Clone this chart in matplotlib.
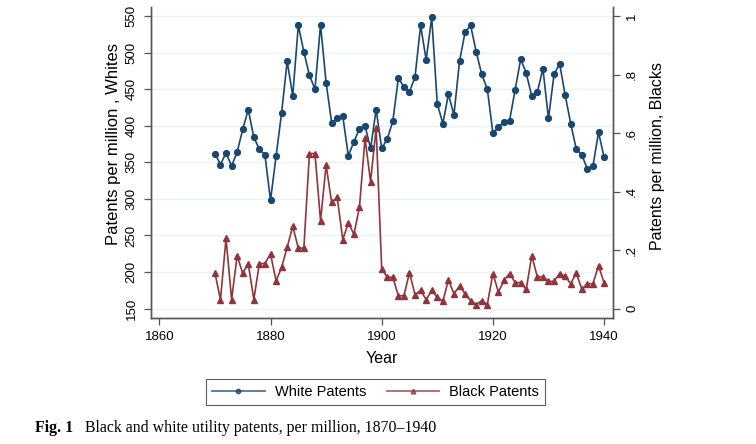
import matplotlib
matplotlib.use("Agg")
import matplotlib.pyplot as plt
from matplotlib.lines import Line2D

years = list(range(1870, 1941))
white = [362, 347, 363, 345, 364, 395, 422, 384, 368, 360,
         298, 358, 418, 488, 441, 537, 501, 469, 450, 538,
         459, 404, 410, 413, 359, 378, 396, 400, 369, 422,
         369, 382, 406, 465, 453, 446, 467, 537, 490, 548,
         430, 403, 443, 415, 488, 528, 537, 501, 470, 450,
         390, 398, 405, 407, 449, 491, 472, 440, 446, 478,
         410, 470, 485, 442, 403, 368, 360, 341, 345, 391,
         357]
black = [0.122, 0.031, 0.240, 0.031, 0.180, 0.121, 0.154, 0.031, 0.154, 0.154,
         0.187, 0.095, 0.141, 0.210, 0.281, 0.207, 0.207, 0.530, 0.530, 0.300,
         0.490, 0.363, 0.380, 0.236, 0.293, 0.254, 0.346, 0.582, 0.434, 0.618,
         0.136, 0.107, 0.107, 0.044, 0.044, 0.123, 0.047, 0.062, 0.031, 0.062,
         0.039, 0.025, 0.098, 0.051, 0.077, 0.051, 0.027, 0.014, 0.027, 0.014,
         0.120, 0.056, 0.097, 0.120, 0.089, 0.089, 0.066, 0.181, 0.108, 0.108,
         0.093, 0.093, 0.120, 0.110, 0.085, 0.122, 0.066, 0.085, 0.085, 0.147,
         0.088]

x_ticks = [1860, 1880, 1900, 1920, 1940]
left_ticks = [150, 200, 250, 300, 350, 400, 450, 500, 550]
right_ticks = [0, 0.2, 0.4, 0.6, 0.8, 1.0]
right_labels = ["0", ".2", ".4", ".6", ".8", "1"]

navy = "#1a476f"
maroon = "#90353b"
spine_c = "#555555"

plt.rcParams['font.family'] = ['Liberation Sans', 'DejaVu Sans']

fig = plt.figure(figsize=(7.56, 4.44), dpi=100)
ax = fig.add_axes([0.1997, 0.2845, 0.6111, 0.7005])
ax2 = ax.twinx()

ax.plot(years, white, color=navy, lw=1.2, marker='o', ms=4.2, zorder=3)
ax2.plot(years, black, color=maroon, lw=1.2, marker='^', ms=4.5, zorder=3)

ax.set_xlim(1858.5, 1941.6)
ax.set_ylim(137.7, 562.7)
ax2.set_ylim(-0.031, 1.032)

ax.set_xticks(x_ticks)
ax.set_yticks(left_ticks)
ax2.set_yticks(right_ticks)
ax2.set_yticklabels(right_labels)
ax.grid(axis='y', color='#eaf2f3', lw=1.0)
ax.set_axisbelow(True)

for a in (ax, ax2):
    a.spines['top'].set_visible(False)
    for s in ('left', 'right', 'bottom'):
        a.spines[s].set_color(spine_c)
        a.spines[s].set_linewidth(1.0)
    a.tick_params(direction='out', length=5, width=0.9, color=spine_c,
                  labelsize=9.5, labelcolor='black', pad=4.5)

for lab in ax.get_yticklabels():
    lab.set_rotation(90)
    lab.set_va('center')
for lab in ax2.get_yticklabels():
    lab.set_rotation(90)
    lab.set_va('center')

ax.set_xlabel("Year", fontsize=11.5, labelpad=6)
ax.set_ylabel("Patents per million , Whites", fontsize=12)
ax.yaxis.set_label_coords(-0.064, 0.56)
ax2.set_ylabel("Patents per million, Blacks", fontsize=11.5, rotation=90)
ax2.yaxis.set_label_coords(1.081, 0.521)

handles = [Line2D([], [], color=navy, lw=1.3, alpha=0.75, marker='o', ms=3.2,
                  markerfacecolor=navy, markeredgecolor=navy),
           Line2D([], [], color=maroon, lw=1.3, alpha=0.75, marker='^', ms=3.5,
                  markerfacecolor=maroon, markeredgecolor=maroon)]
leg = fig.legend(handles, ["White Patents", "Black Patents"], ncol=2,
                 loc='center', bbox_to_anchor=(0.497, 0.117), fontsize=10.5,
                 frameon=True, fancybox=False, handlelength=3.6,
                 columnspacing=1.4, borderpad=0.4, handletextpad=0.7)
leg.get_frame().set_edgecolor('#333333')
leg.get_frame().set_linewidth(0.8)

fig.text(0.0463, 0.027, "Fig. 1", fontsize=11.4, fontweight='bold',
         family='Liberation Serif', ha='left', va='baseline')
fig.text(0.113, 0.027, "Black and white utility patents, per million, 1870\u20131940",
         fontsize=11.4, family='Liberation Serif', ha='left', va='baseline')

fig.savefig("out.png", dpi=100)
